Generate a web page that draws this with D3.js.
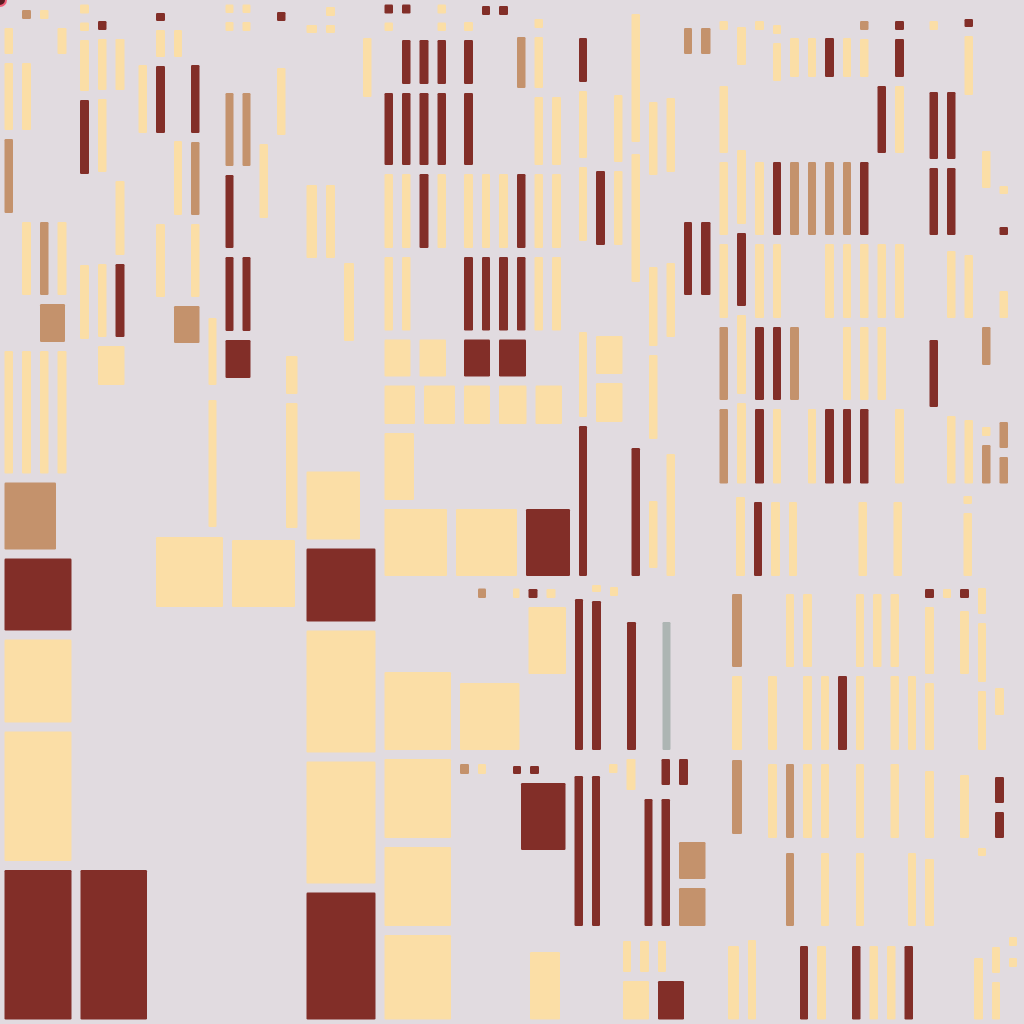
<!DOCTYPE html>
<html><head><meta charset="utf-8">
<script src="https://cdn.jsdelivr.net/npm/d3@7"></script>
<style>html,body{margin:0;padding:0;background:#e1dbe0;}svg{display:block}</style>
</head><body><svg id="chart" width="1024" height="1024"></svg>
<script>
// Treemap-like tiling. Leaf token = category letter + size ("_" = empty cell).
// "v<size>: ..." stacks leaves top-to-bottom, "h<size>: ..." places them left-to-right.
const categories = ["Y", "T", "R", "G"];

const aTop = ["h478",
  "v17.5: _23.5 Y35 Y76 T83 _129 Y131.5",
  "v18: _5.5 T18 _35 Y76 _83 Y82 _47 Y131.5",
  ["v35.5", ["h299.5", "v17.5: _5.5 Y18 _194 T82", "v18: _23.5 Y35 _159 Y82"], ["h47", "T34", "_1.5"], ["h131.5", "Y17.5", "Y18"]],
  "_4.5",
  "v18: Y18 Y17.5 Y60 R83 _82 Y83 _134.5",
  ["v35.5", ["h341.5", "v17.5: _16.5 R18 Y60 Y82 _83 Y82", "v18: _34.5 Y60 _82 Y83 R82"], "Y48", "_88.5"],
  "_5",
  "v17.5: _60.5 Y77 _340.5"];
const aBottom = [
  ["h387.5", ["v76", ["h76", "T60.5", "_15.5"], "R81", "Y92", "Y138.5"], "_75.5"],
  ["h158.5", "R76", "R75.5"]];

const bTop = ["h532.5",
  "v18: _8.5 R17 Y36 R76 _82 Y82 _231",
  ["v34.5", ["h301.5", "v17: _25.5 Y36 _75 Y83 _82", "v17.5: _60.5 R77 T82 Y82"], "T46", "_185"],
  "v17: _313.5 Y76 _6 Y136 _1",
  ["v34", ["h335.5", "v17: Y17.5 Y18 _53 T82 R82 R83", "v17: Y17.5 Y18 _53 T82 _82 R83"], "R47", "_150"],
  "v17.5: _139.5 Y83 _310",
  ["v29.5", ["h143.5", "v17.5: _7.5 R18 _38 Y76 _4", "_12"], ["h389", "_9", "v20.5: _208 Y47 Y134"]]];
const bBottom = [["h79", "Y76", "v72: _3 Y76", "_2.5"], "_412.5"];

const cTop = ["h467",
  "v19.5: _20.5 Y17 _143 Y82 _204.5",
  "v18: _2.5 Y18 Y17 _143 Y82 _204.5",
  "v19: _258.5 Y87 _121.5",
  "v17.5: _33.5 Y68 _365.5",
  "_4"];
const cBottom = [["h77", "Y62.5", "_15.5"], "R82", "Y131", "Y131", "R136"];

const dTop = ["v194.5",
  ["h335",
    "v17.5: R18 Y17.5 _53 R81 Y83 Y82.5",
    "v17.5: R18 _17.5 R53 R81 Y83 Y82.5",
    "v18: _35.5 R53 R81 R83 _82.5",
    "v17.5: Y18 Y17.5 R53 R81 Y83 _82.5",
    "_9",
    "v18: _17.5 Y18 R53 R81 Y83 R82.5",
    "v17: _1.5 R18 _150 Y83 R82.5",
    "v18: _1.5 R18 _150 Y83 R82.5",
    "v17.5: _32.5 T60 _77 R83 R82.5",
    "v17.5: _14.5 Y18 Y60 Y77 Y83 Y82.5",
    "v18: _92.5 Y77 Y83 Y82.5",
    "_9"],
  ["h46", "Y35", "Y35.5", "_9", "R35", "R36", "_44"],
  ["h47.5", "Y39.5", "Y40", "Y35", "Y36.5", "Y35.5", "_8"],
  ["h76", "Y38.5", "_156"],
  ["h76", "Y71.5", "Y70", "R53"]];
const eTop = [
  "v17: _33.5 R53 Y76 Y83 _82 Y94 R159",
  ["v35.5", ["h331.5", "v18: _166.5 R83 _82", "v17.5: _90.5 Y76 Y83 _82"], "Y47", "Y48", "_154"],
  "v17.5: _9.5 Y137 _3 Y137 _157 R137",
  "v17.5: _97.5 Y82 _83 Y88 Y93 _53 Y76 _8",
  "v17.5: _93.5 Y83 _82 Y83 _108 Y131",
  "v17: _23.5 T35 _159 R82 _281",
  "v18.5: _23.5 T35 _159 R82 _281"];
const deBand1 = ["h174",
  ["v68.5", "_3.5", "h18.5: _18 T17 _18 Y15.5", "_76", "Y76"],
  ["v46.5", "_4", "h18: R18 Y18 _10.5", "Y76", "_76"],
  "v17: _14 R160", "v18: Y16 R158", "v17: _2 Y18 _154", "v18: _37 R137", "_17.5", "v17: _37 G137", "_40"];
const deBand2 = ["h176",
  ["v53", "_5", "h19: T18 Y17 _18", "_152"],
  ["v61.5", "_7", "h17: R17 R18 _26.5", ["h76", "_8", "R53.5"], "_76"],
  "v17.5: _17 R159", "v17: _17 R159", "v17.5: _5 Y18 _153", "v18: Y40 _136", "v17: _40 R136", "v17.5: R35 _5 R136",
  ["v35.5", "h35: R18 _17.5", "_48", "T46", "T47"],
  "_5"];
const deBand3 = ["h93.5", "_70", "v39: _17 Y76.5", "_54",
  ["v70", "_6", "h40: Y17 Y18 Y17 _18", "h47.5: Y35 R35"], "_26.5"];

const fTop = ["h488",
  "v17.5: _16.5 Y18 _47 Y76 Y82 Y83 T82 T83.5",
  "v18: _22.5 Y47 _76 Y83 R82 Y88 Y89.5",
  "v18: _16.5 Y18 _123 Y82 Y83 R82 R83.5",
  "v17: _20.5 Y18 Y47 _72 R82 Y83 R82 Y83.5",
  "v18: _33.5 Y48 _76 T82 _83 T82 _83.5",
  "v17: _33.5 Y48 _76 T82 _165 Y83.5",
  "v18: _33.5 R48 _76 T82 Y83 _82 R83.5",
  "v17: _33.5 Y48 _76 T82 Y83 Y82 R83.5",
  "v17.5: _16.5 T18 Y47 _76 R82 Y83 Y82 R83.5",
  "v17.5: _81.5 R76 _82 Y83 Y82 _83.5",
  "v18: _16.5 R18 R47 Y76 _82 Y83 _82 Y83.5",
  "_16.5",
  "v17.5: _16.5 Y18 _53 R76 R76 _96 R76 _76.5",
  "v17.5: _87.5 R76 R76 _7 Y76 _89 Y76.5",
  "v17.5: _14.5 R17 Y68 _151 Y72 _93 Y72.5",
  "v17.5: _146.5 Y46 _130 T47 _53 Y18 T47.5",
  "v17.5: _181.5 Y17 _24 R17 _47 Y36 _95 T35 T35.5",
  "_11.5"];
const fBandA = ["h92.5", "_16.5", "v18: _4.5 Y88", "v17: _9.5 R83", "v18: _9.5 Y83", "v17: _9.5 Y83", "_52.5",
  "v17.5: _9.5 Y83", "_17.5", "v17.5: _9.5 Y83", "_52.5", "v17.5: _3.5 Y17 Y72", "_47.5"];
const fLeftRows = [
  ["h91", "_12.5", "v19: _9 T82", "_17", "_18", "v17: _9 Y82", "v18: _9 Y82", "_17", "_18", "v17: _9 Y82", "v17.5: _9 Y82", "v17.5: _9 Y82", "_17"],
  ["h83", "_12.5", "Y19", "_17", "Y18", "_17", "Y18", "Y17", "R18", "Y17", "_17.5", "Y17.5", "Y17"],
  ["h88", "_12.5", "v19: _1 T83 _4", "_17", "v18: _5 Y83", "v17: _5 T83", "v18: _5 Y83", "v17: _5 Y83", "_18", "v17: _5 Y83", "_17.5", "v17.5: _5 Y83", "_17"],
  ["h88", "_12.5", "_19", "_17", "_18", "v17: _6 T82", "_18", "v17: _6 Y82", "_18", "v17: _6 Y82", "_17.5", "_17.5", "v17: _6 Y82"],
  ["h93.5", "_8.5", "v20: _11 Y82.5", "v17: _5 Y88.5", "_35", "v17: _11 R82.5", "v18: _11 Y82.5", "_17", "v17.5: _11 R82.5", "v17.5: _11 Y82.5", "v17.5: _11 Y82.5", "v17.5: _11 R82.5", "_3"]];
const fRight = ["v103.5",
  ["h350", "v18: _4 R18 Y76 Y76 _12 Y76 _12 Y76", "v17: _4 Y18 _328", "v18: _4 R18 _4 Y72 _92 Y72 _88",
    "v17: _3 Y35 Y68 Y68 _89 Y17 _70", "v18: _103 Y36 _53 R35 R35 _88", "_15.5"],
  ["h93.5", "_49", "v18: _23 Y70.5", "v17: _12 Y35 Y46.5", "v17: _2 Y18 _3 Y18 _52.5", "_2.5"]];

// ---- build hierarchy ----
const regionA = ["v151.5", aTop, ...aBottom];
const regionB = ["v150.5", bTop, ...bBottom];
const regionC = ["v78", cTop, ...cBottom];
const regionDE = ["v335", ["h580.5", dTop, ...eTop],
  ["h443.5", "v75.5: _87 Y87 Y88 Y88 Y93.5", ["v259.5", deBand1, deBand2, deBand3]]];
const regionF = ["v309", fTop, fBandA, ["h443.5", ["v205.5", ...fLeftRows], fRight]];

function parseLeaf(t) { return { cat: t[0], size: +t.slice(1) }; }
function parseNode(x) {
  if (Array.isArray(x)) {
    const [head, ...kids] = x;
    return { dir: head[0], size: +head.slice(1), children: kids.map(parseNode) };
  }
  if (x.includes(":")) {
    const [head, body] = x.split(":");
    const h = head.trim();
    return { dir: h[0], size: +h.slice(1), children: body.trim().split(/\s+/).map(parseLeaf) };
  }
  return parseLeaf(x);
}

const data = parseNode(["h1024", regionA, regionB, regionC, regionDE, regionF]);
const root = d3.hierarchy(data, d => d.children).sum(d => d.children ? 0 : d.size);
const tile = (node, x0, y0, x1, y1) => {
  node.children.forEach(c => { c.value = c.data.size; });
  node.value = d3.sum(node.children, c => c.value);
  (node.data.dir === "h" ? d3.treemapDice : d3.treemapSlice)(node, x0, y0, x1, y1);
};
d3.treemap().tile(tile).size([1024, 1024]).round(false)(root);

const color = d3.scaleOrdinal().domain(categories).range(["#fbdea6", "#c4926c", "#822e28", "#adb5b3"]);
const svg = d3.select("#chart");
svg.append("rect").attr("width", 1024).attr("height", 1024).attr("fill", "#e1dbe0");
const inset = 4.5;
svg.append("g").selectAll("rect")
  .data(root.leaves().filter(d => d.data.cat !== "_"))
  .join("rect")
  .attr("x", d => d.x0 + inset)
  .attr("y", d => d.y0 + inset)
  .attr("width", d => Math.max(0, d.x1 - d.x0 - 2 * inset))
  .attr("height", d => Math.max(0, d.y1 - d.y0 - 2 * inset))
  .attr("rx", 1.2)
  .attr("fill", d => color(d.data.cat));
svg.append("circle").attr("cx", 0).attr("cy", 0).attr("r", 6)
  .attr("fill", "#5a1c22").attr("stroke", "#f0607a").attr("stroke-width", 2);
</script></body></html>
